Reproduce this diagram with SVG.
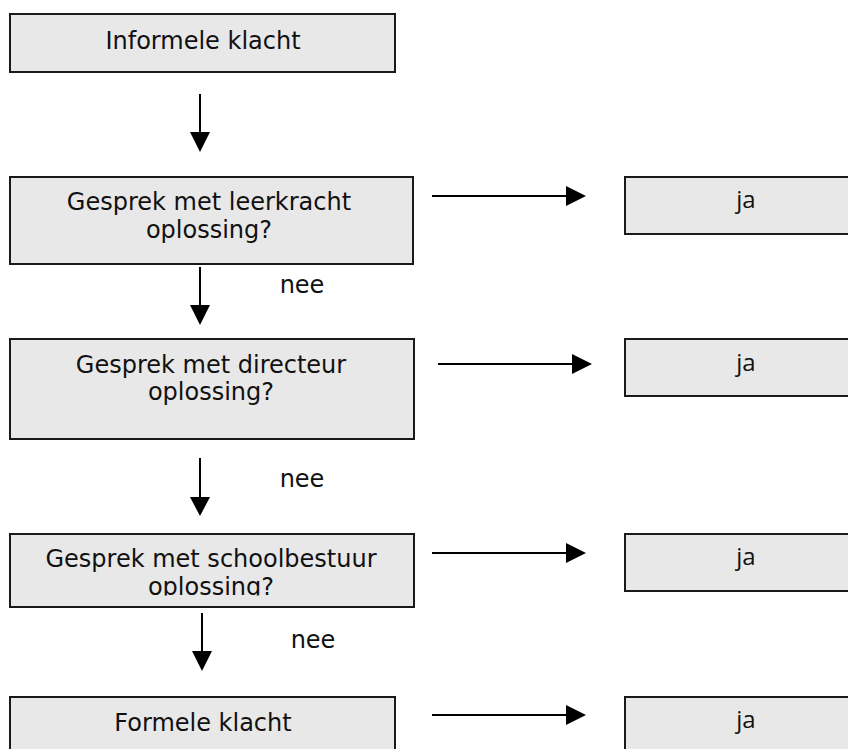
<svg xmlns="http://www.w3.org/2000/svg" width="848" height="749" viewBox="0 0 848 749">
<style>
.box{fill:#e8e8e8;stroke:#1a1a1a;stroke-width:2}
.t{font-family:"DejaVu Sans",Verdana,sans-serif;font-size:24px;fill:#111;text-anchor:middle}
.ja{font-family:"Open Sans","Noto Sans",sans-serif;font-size:24px;fill:#111;text-anchor:middle}
.ln{stroke:#000;stroke-width:2;fill:none}
.hd{fill:#000}
</style>
<defs>
<clipPath id="clip4"><rect x="10" y="534" width="404" height="61.5"/></clipPath>
</defs>
<g id="n-informele">
<rect class="box" x="10" y="14" width="385" height="58"/>
<text class="t" x="203" y="49">Informele klacht</text>
</g>
<g id="n-leerkracht">
<rect class="box" x="10" y="177" width="403" height="87"/>
<text class="t" x="209" y="210">Gesprek met leerkracht</text>
<text class="t" x="209" y="238">oplossing?</text>
</g>
<g id="n-directeur">
<rect class="box" x="10" y="339" width="404" height="100"/>
<text class="t" x="211" y="373">Gesprek met directeur</text>
<text class="t" x="211" y="400">oplossing?</text>
</g>
<g id="n-schoolbestuur">
<rect class="box" x="10" y="534" width="404" height="73"/>
<g clip-path="url(#clip4)">
<text class="t" x="211" y="567">Gesprek met schoolbestuur</text>
<text class="t" x="211" y="595">oplossing?</text>
</g>
</g>
<g id="n-formeel">
<rect class="box" x="10" y="697" width="385" height="70"/>
<text class="t" x="203" y="731">Formele klacht</text>
</g>
<g id="n-ja1">
<rect class="box" x="625" y="177" width="240" height="57"/>
<text class="ja" x="746" y="208">ja</text>
</g>
<g id="n-ja2">
<rect class="box" x="625" y="339" width="240" height="57"/>
<text class="ja" x="746" y="371">ja</text>
</g>
<g id="n-ja3">
<rect class="box" x="625" y="534" width="240" height="57"/>
<text class="ja" x="746" y="565">ja</text>
</g>
<g id="n-ja4">
<rect class="box" x="625" y="697" width="240" height="70"/>
<text class="ja" x="746" y="728">ja</text>
</g>
<g id="connectors">
<line class="ln" x1="200" y1="94" x2="200" y2="133"/>
<polygon class="hd" points="190,132 210,132 200,152"/>
<line class="ln" x1="200" y1="267" x2="200" y2="306"/>
<polygon class="hd" points="190,305 210,305 200,325"/>
<line class="ln" x1="200" y1="458" x2="200" y2="498"/>
<polygon class="hd" points="190,497 210,497 200,516"/>
<line class="ln" x1="202" y1="613" x2="202" y2="652"/>
<polygon class="hd" points="192,651 212,651 202,671"/>
<line class="ln" x1="432" y1="196" x2="567" y2="196"/>
<polygon class="hd" points="566,186 566,206 586,196"/>
<line class="ln" x1="438" y1="364" x2="573" y2="364"/>
<polygon class="hd" points="572,354 572,374 592,364"/>
<line class="ln" x1="432" y1="553" x2="567" y2="553"/>
<polygon class="hd" points="566,543 566,563 586,553"/>
<line class="ln" x1="432" y1="715" x2="567" y2="715"/>
<polygon class="hd" points="566,705 566,725 586,715"/>
<text class="t" x="302" y="293">nee</text>
<text class="t" x="302" y="487">nee</text>
<text class="t" x="313" y="648">nee</text>
</g>
</svg>
